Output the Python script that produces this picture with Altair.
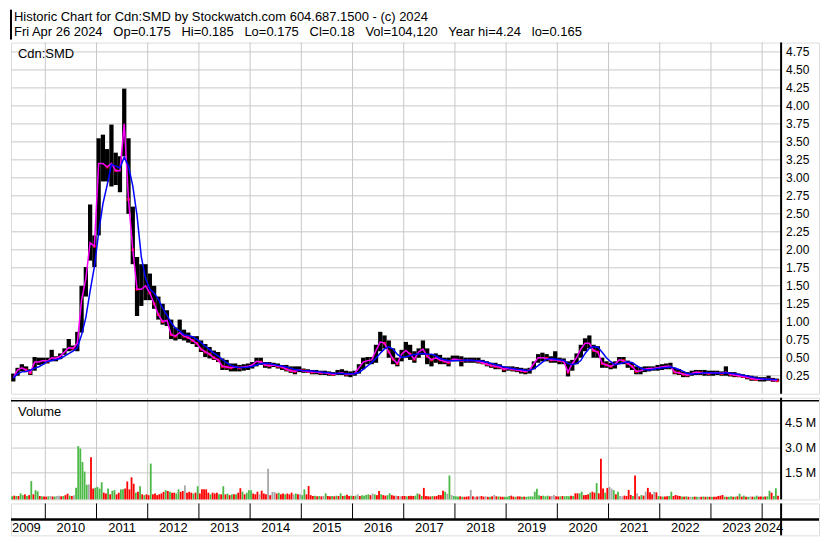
import altair as alt
import pandas as pd

# ---------------- data ----------------
START_YEAR, START_MONTH = 2009, 5   # first month shown: May 2009 (monthly bars)

price_hi = [
    0.28, 0.36, 0.41, 0.38, 0.34, 0.51, 0.50, 0.50,                       # 2009 May-Dec
    0.50, 0.61, 0.52, 0.56, 0.63, 0.76, 0.67, 0.86, 1.50, 1.76, 2.63, 2.20, # 2010
    3.55, 3.60, 3.40, 3.74, 3.35, 3.30, 4.24, 3.55, 2.60, 1.90, 1.80, 1.80, # 2011
    1.67, 1.50, 1.35, 1.25, 1.16, 1.03, 0.92, 1.03, 0.89, 0.85, 0.80, 0.80, # 2012
    0.74, 0.69, 0.65, 0.60, 0.58, 0.49, 0.47, 0.42, 0.42, 0.40, 0.41, 0.42, # 2013
    0.44, 0.50, 0.50, 0.44, 0.44, 0.43, 0.42, 0.40, 0.40, 0.38, 0.38, 0.38, # 2014
    0.35, 0.34, 0.33, 0.33, 0.32, 0.32, 0.31, 0.30, 0.33, 0.34, 0.32, 0.31, # 2015
    0.32, 0.41, 0.50, 0.51, 0.51, 0.68, 0.86, 0.81, 0.74, 0.63, 0.50, 0.61, # 2016
    0.72, 0.68, 0.59, 0.63, 0.74, 0.63, 0.54, 0.56, 0.54, 0.50, 0.50, 0.53, # 2017
    0.53, 0.52, 0.50, 0.50, 0.50, 0.50, 0.47, 0.45, 0.43, 0.43, 0.41, 0.38, # 2018
    0.38, 0.38, 0.37, 0.36, 0.35, 0.36, 0.45, 0.55, 0.57, 0.55, 0.52, 0.59, # 2019
    0.50, 0.49, 0.45, 0.47, 0.56, 0.68, 0.77, 0.81, 0.68, 0.66, 0.50, 0.45, # 2020
    0.43, 0.45, 0.51, 0.51, 0.46, 0.43, 0.38, 0.37, 0.38, 0.38, 0.38, 0.40, # 2021
    0.41, 0.42, 0.43, 0.36, 0.34, 0.31, 0.30, 0.32, 0.33, 0.33, 0.33, 0.32, # 2022
    0.32, 0.32, 0.31, 0.38, 0.30, 0.30, 0.28, 0.27, 0.26, 0.25, 0.24, 0.23, # 2023
    0.23, 0.25, 0.22, 0.21,                                                 # 2024 Jan-Apr
]
price_lo = [
    0.17, 0.25, 0.31, 0.30, 0.26, 0.32, 0.40, 0.41,
    0.42, 0.45, 0.45, 0.48, 0.54, 0.59, 0.60, 0.59, 0.85, 1.35, 1.85, 1.76,
    2.20, 2.95, 2.95, 2.88, 2.90, 2.80, 3.30, 2.50, 1.80, 1.08, 1.22, 1.30,
    1.30, 1.18, 1.03, 0.96, 0.94, 0.76, 0.74, 0.76, 0.74, 0.71, 0.69, 0.65,
    0.58, 0.51, 0.49, 0.47, 0.44, 0.33, 0.33, 0.31, 0.31, 0.31, 0.32, 0.33,
    0.35, 0.38, 0.40, 0.36, 0.35, 0.37, 0.35, 0.33, 0.31, 0.29, 0.27, 0.30,
    0.29, 0.29, 0.27, 0.27, 0.26, 0.26, 0.25, 0.25, 0.26, 0.26, 0.24, 0.23,
    0.25, 0.28, 0.34, 0.41, 0.41, 0.43, 0.59, 0.63, 0.50, 0.41, 0.38, 0.45,
    0.50, 0.47, 0.43, 0.50, 0.54, 0.41, 0.38, 0.43, 0.41, 0.41, 0.38, 0.45,
    0.45, 0.38, 0.43, 0.43, 0.43, 0.42, 0.41, 0.38, 0.36, 0.34, 0.34, 0.30,
    0.32, 0.31, 0.30, 0.28, 0.27, 0.28, 0.34, 0.43, 0.45, 0.45, 0.43, 0.43,
    0.41, 0.41, 0.24, 0.32, 0.41, 0.50, 0.59, 0.63, 0.50, 0.50, 0.36, 0.36,
    0.34, 0.35, 0.41, 0.41, 0.36, 0.33, 0.27, 0.27, 0.30, 0.31, 0.32, 0.32,
    0.33, 0.34, 0.34, 0.27, 0.26, 0.23, 0.23, 0.25, 0.26, 0.26, 0.25, 0.25,
    0.25, 0.26, 0.25, 0.25, 0.24, 0.23, 0.23, 0.22, 0.20, 0.18, 0.18, 0.17,
    0.17, 0.18, 0.165, 0.17,
]
price_cl = [
    0.22, 0.33, 0.36, 0.33, 0.29, 0.44, 0.44, 0.46,
    0.45, 0.50, 0.49, 0.52, 0.58, 0.64, 0.63, 0.70, 1.30, 1.60, 2.10, 2.05,
    3.20, 3.20, 3.15, 3.20, 3.10, 3.10, 3.75, 2.70, 2.00, 1.45, 1.45, 1.50,
    1.40, 1.25, 1.10, 1.00, 1.02, 0.82, 0.80, 0.85, 0.80, 0.78, 0.74, 0.70,
    0.62, 0.58, 0.55, 0.50, 0.47, 0.38, 0.37, 0.36, 0.37, 0.36, 0.37, 0.38,
    0.40, 0.45, 0.44, 0.40, 0.39, 0.40, 0.38, 0.37, 0.34, 0.32, 0.31, 0.33,
    0.32, 0.31, 0.30, 0.30, 0.29, 0.29, 0.28, 0.27, 0.28, 0.29, 0.27, 0.27,
    0.28, 0.36, 0.44, 0.46, 0.47, 0.60, 0.72, 0.70, 0.58, 0.48, 0.42, 0.55,
    0.60, 0.55, 0.48, 0.58, 0.62, 0.52, 0.47, 0.50, 0.47, 0.45, 0.43, 0.48,
    0.48, 0.46, 0.46, 0.46, 0.46, 0.45, 0.43, 0.41, 0.39, 0.38, 0.37, 0.34,
    0.35, 0.34, 0.33, 0.32, 0.31, 0.33, 0.42, 0.50, 0.50, 0.49, 0.47, 0.47,
    0.46, 0.45, 0.30, 0.42, 0.50, 0.62, 0.70, 0.70, 0.60, 0.58, 0.42, 0.40,
    0.38, 0.41, 0.47, 0.46, 0.42, 0.38, 0.31, 0.32, 0.34, 0.35, 0.35, 0.36,
    0.37, 0.38, 0.38, 0.30, 0.29, 0.27, 0.26, 0.28, 0.30, 0.29, 0.29, 0.28,
    0.29, 0.29, 0.28, 0.30, 0.27, 0.26, 0.25, 0.24, 0.23, 0.21, 0.20, 0.20,
    0.20, 0.20, 0.19, 0.18,
]

# volume, half-month steps from May 2009 (millions of shares)
vol_m = [
    0.08, 0.12, 0.10, 0.10, 0.26, 0.15, 0.20, 0.10, 0.15, 1.00, 0.20, 0.45, 0.38, 0.10, 0.08, 0.07,
    0.06, 0.08, 0.10, 0.07, 0.07, 0.10, 0.12, 0.08, 0.10, 0.15, 0.24, 0.12, 0.10, 0.15, 0.60, 3.12, 2.97, 2.16, 1.58, 0.78, 0.80, 2.44, 0.55, 0.60,
    0.65, 0.55, 0.93, 0.30, 0.25, 0.55, 0.20, 0.42, 0.45, 0.20, 0.30, 0.50, 0.50, 0.55, 0.98, 0.50, 1.23, 0.84, 0.30, 0.35, 0.69, 0.20, 0.15, 0.20,
    0.15, 2.06, 0.20, 0.25, 0.15, 0.20, 0.25, 0.35, 0.45, 0.40, 0.35, 0.30, 0.30, 0.25, 0.50, 0.35, 0.40, 0.74, 0.30, 0.35, 0.30, 0.25, 0.30, 0.69,
    0.25, 0.50, 0.50, 0.50, 0.30, 0.20, 0.30, 0.25, 0.30, 0.20, 0.20, 0.69, 0.20, 0.25, 0.15, 0.20, 0.20, 0.20, 0.30, 0.57, 0.36, 0.20, 0.30, 0.45,
    0.45, 0.25, 0.20, 0.36, 0.20, 0.42, 0.25, 0.20, 1.75, 0.15, 0.35, 0.35, 0.25, 0.30, 0.20, 0.25, 0.20, 0.25, 0.20, 0.30, 0.20, 0.25, 0.20, 0.20,
    0.15, 0.50, 0.20, 0.70, 0.15, 0.10, 0.12, 0.08, 0.10, 0.08, 0.10, 0.26, 0.10, 0.08, 0.10, 0.08, 0.12, 0.10, 0.26, 0.10, 0.12, 0.17, 0.10, 0.12,
    0.10, 0.12, 0.20, 0.10, 0.15, 0.12, 0.17, 0.20, 0.15, 0.25, 0.20, 0.15, 0.40, 0.20, 0.15, 0.12, 0.15, 0.26, 0.15, 0.12, 0.12, 0.10, 0.08, 0.10,
    0.10, 0.08, 0.10, 0.12, 0.10, 0.12, 0.26, 0.20, 0.10, 0.59, 0.10, 0.08, 0.07, 0.10, 0.08, 0.10, 0.16, 0.15, 0.42, 0.36, 0.24, 1.34, 0.16, 0.10,
    0.08, 0.07, 0.08, 0.06, 0.05, 0.06, 0.08, 0.47, 0.08, 0.06, 0.07, 0.08, 0.10, 0.06, 0.08, 0.05, 0.06, 0.08, 0.16, 0.08, 0.07, 0.06, 0.05, 0.06,
    0.06, 0.10, 0.12, 0.06, 0.05, 0.08, 0.07, 0.05, 0.06, 0.05, 0.07, 0.08, 0.07, 0.36, 0.53, 0.15, 0.10, 0.12, 0.08, 0.12, 0.08, 0.10, 0.16, 0.08,
    0.07, 0.08, 0.10, 0.08, 0.10, 0.08, 0.12, 0.10, 0.26, 0.26, 0.26, 0.36, 0.15, 0.16, 0.20, 0.30, 0.36, 0.30, 0.88, 0.26, 2.35, 0.55, 0.30, 0.59,
    0.65, 0.55, 0.45, 0.20, 0.36, 0.10, 0.08, 0.12, 0.10, 0.47, 0.16, 0.10, 1.34, 0.26, 0.08, 0.16, 0.12, 0.36, 0.59, 0.32, 0.20, 0.36, 0.32, 0.10,
    0.08, 0.06, 0.07, 0.08, 0.10, 0.36, 0.10, 0.16, 0.12, 0.10, 0.07, 0.06, 0.08, 0.05, 0.06, 0.05, 0.06, 0.05, 0.06, 0.05, 0.07, 0.05, 0.06, 0.05,
    0.05, 0.06, 0.05, 0.10, 0.12, 0.16, 0.06, 0.05, 0.06, 0.08, 0.05, 0.06, 0.08, 0.24, 0.06, 0.12, 0.06, 0.05, 0.07, 0.06, 0.05, 0.12, 0.06, 0.07,
    0.06, 0.07, 0.08, 0.42, 0.30, 0.10, 0.57, 0.12,
]
# g = up, r = down, n = unchanged
vol_dir = (
    "g r g r g g r g r g r g g r g r "
    "r g n r g n n r g r r g r n g g g g g g n r r g "
    "g g g r r g r g g r r g g r r r r r g r g r g r "
    "r g r r r r r r g r g r r g g r r n r r r g r g "
    "r r r r r g r r r g r g r g r g r g r r g r g g "
    "g r r r n r r r n r n n r g r r g r r r n g r n "
    "g g r r r r g r g r n g r r g r g r g r g r r g "
    "r g n r g g g g r n g r r g r r g g r r n r n r "
    "r g r r r g g r g r r r r g r r r r r g n g n g "
    "g g r g r r r n r n r n r r n r g r n r g r r g "
    "g g r r g r r g r g g g g g g g r g g g r n n r "
    "r g r g g g r g r r g g r r r g r r g r r r g r "
    "n n g r g n n r r r r g r n r g r n r r r n r g "
    "r g r r g g r r r r g r g r n g r g n r g r g r "
    "g r r r r r g r g g r g r g r g r g n r g g r r "
    "g r g g r g g r"
).split()

price_labels = ["0.25", "0.50", "0.75", "1.00", "1.25", "1.50", "1.75", "2.00", "2.25",
                "2.50", "2.75", "3.00", "3.25", "3.50", "3.75", "4.00", "4.25", "4.50", "4.75"]
vol_labels = ["1.5 M", "3.0 M", "4.5 M"]
vol_label_values = [1.5, 3.0, 4.5]
years = list(range(2009, 2025))

header_1 = "Historic Chart for Cdn:SMD by Stockwatch.com 604.687.1500 - (c) 2024"
header_2_parts = ["Fri Apr 26 2024", "Op=0.175", "Hi=0.185", "Lo=0.175", "Cl=0.18",
                  "Vol=104,120", "Year hi=4.24", "lo=0.165"]

# ---------------- layout ----------------
FONT = "Liberation Sans"
VW = 810          # full panel width (plot + label column)
PW = 772          # plot width, label column to the right of it
HH, PH, VH, BH = 30, 352, 102, 32
BAND = 16

X0, XP = 2009.33, 2024.37
X1 = X0 + (XP - X0) * VW / PW
MONTH_PX = PW / (XP - X0) / 12

xs = alt.Scale(domain=[X0, X1], nice=False, zero=False)
ys_p = alt.Scale(domain=[0, 4.88], nice=False, zero=False)
ys_v = alt.Scale(domain=[-0.11, 6.05], nice=False, zero=False)

one = pd.DataFrame({"k": [0]})
pdf = pd.DataFrame({
    "t": [START_YEAR + (START_MONTH - 1 + i + 0.5) / 12 for i in range(len(price_cl))],
    "hi": price_hi, "lo": price_lo, "cl": price_cl,
})
vt0 = [START_YEAR + (START_MONTH - 1) / 12 + j / 24 for j in range(len(vol_m))]
vdf = pd.DataFrame({"t0": vt0, "t1": [v + 0.85 / 24 for v in vt0], "v": vol_m, "d": vol_dir})
pgrid = pd.DataFrame({"lab": price_labels, "v": [float(s) for s in price_labels]})
vgrid = pd.DataFrame({"lab": vol_labels, "v": vol_label_values})
yr_lines = pd.DataFrame({"year": years[1:]})
yr_mid = pd.DataFrame({"lab": [str(y) for y in years[1:-1]], "pos": [y + 0.5 for y in years[1:-1]]})
yr_first = pd.DataFrame({"lab": [str(years[0])], "pos": [X0]})
yr_last = pd.DataFrame({"lab": [str(years[-1])]})

GRID = "#c8c8c8"
X = lambda f: alt.X(f, scale=xs, axis=None)


def sep(h):
    return alt.Chart(one).mark_rule(color="black", strokeWidth=2).encode(
        x=alt.value(PW), y=alt.value(0), y2=alt.value(h))


# ---------------- header ----------------
header = alt.layer(
    alt.Chart(one).mark_rule(color="black", strokeWidth=2).encode(
        x=alt.value(0), y=alt.value(0), y2=alt.value(HH)),
    alt.Chart(one).mark_text(align="left", baseline="alphabetic", font=FONT, fontSize=13,
                             color="black").encode(
        x=alt.value(3), y=alt.value(11), text=alt.value(header_1)),
    alt.Chart(one).mark_text(align="left", baseline="alphabetic", font=FONT, fontSize=13,
                             color="black").encode(
        x=alt.value(3), y=alt.value(26),
        text=alt.value("\u00a0\u00a0 ".join(header_2_parts))),
).properties(width=VW, height=HH, view=alt.ViewBackground(strokeOpacity=0))

# ---------------- price panel ----------------
sort_t = [alt.SortField("t", order="ascending")]
price = alt.layer(
    alt.Chart(pgrid).mark_rule(color=GRID, strokeWidth=1).encode(
        y=alt.Y("v:Q", scale=ys_p, axis=None), x=alt.value(0), x2=alt.value(PW)),
    alt.Chart(yr_lines).mark_rule(color=GRID, strokeWidth=1).encode(
        x=X("year:Q"), y=alt.value(0), y2=alt.value(PH)),
    alt.Chart(pdf).mark_rule(color="black", strokeWidth=MONTH_PX).encode(
        x=X("t:Q"), y=alt.Y("lo:Q", scale=ys_p, axis=None), y2="hi:Q"),
    alt.Chart(pdf).transform_window(prev="lag(cl)", sort=sort_t).transform_filter(
        "isValid(datum.prev) && datum.cl < datum.prev").mark_square(
        color="#ff0000", size=8, opacity=1).encode(
        x=X("t:Q"), y=alt.Y("cl:Q", scale=ys_p, axis=None)),
    alt.Chart(pdf).mark_line(color="#ff00ff", strokeWidth=1.5).encode(
        x=X("t:Q"), y=alt.Y("cl:Q", scale=ys_p, axis=None)),
    alt.Chart(pdf).transform_window(ma="mean(cl)", frame=[-3, 0], sort=sort_t).mark_line(
        color="#0000ff", strokeWidth=1.5).encode(
        x=X("t:Q"), y=alt.Y("ma:Q", scale=ys_p, axis=None)),
    sep(PH),
    alt.Chart(pgrid).mark_text(align="left", baseline="middle", font=FONT, fontSize=12,
                               color="black").encode(
        x=alt.value(PW + 5), y=alt.Y("v:Q", scale=ys_p, axis=None), text="lab:N"),
    alt.Chart(one).mark_text(align="left", baseline="alphabetic", font=FONT, fontSize=13,
                             color="black").encode(
        x=alt.value(7), y=alt.value(15), text=alt.value("Cdn:SMD")),
).properties(width=VW, height=PH)

# ---------------- volume panel ----------------
volume = alt.layer(
    alt.Chart(vgrid).mark_rule(color=GRID, strokeWidth=1).encode(
        y=alt.Y("v:Q", scale=ys_v, axis=None), x=alt.value(0), x2=alt.value(PW)),
    alt.Chart(yr_lines).mark_rule(color=GRID, strokeWidth=1).encode(
        x=X("year:Q"), y=alt.value(0), y2=alt.value(VH)),
    alt.Chart(vdf).mark_bar().encode(
        x=X("t0:Q"), x2="t1:Q",
        y=alt.Y("v:Q", scale=ys_v, axis=None), y2=alt.value(VH),
        color=alt.Color("d:N", legend=None,
                        scale=alt.Scale(domain=["g", "r", "n"],
                                        range=["#4cb848", "#ff0000", "#a8a8a8"]))),
    alt.Chart(one).mark_rule(color="black", strokeWidth=1.5).encode(
        x=alt.value(0), x2=alt.value(VW), y=alt.value(3)),
    sep(VH),
    alt.Chart(vgrid).mark_text(align="left", baseline="middle", font=FONT, fontSize=12.5,
                               color="black").encode(
        x=alt.value(PW + 4), y=alt.Y("v:Q", scale=ys_v, axis=None), text="lab:N"),
    alt.Chart(one).mark_text(align="left", baseline="alphabetic", font=FONT, fontSize=13,
                             color="black").encode(
        x=alt.value(7), y=alt.value(18), text=alt.value("Volume")),
).properties(width=VW, height=VH)

# ---------------- year band ----------------
band = alt.layer(
    alt.Chart(yr_lines).mark_rule(color="black", strokeWidth=1).encode(
        x=X("year:Q"), y=alt.value(0), y2=alt.value(BAND)),
    alt.Chart(one).mark_rule(color="black", strokeWidth=2.5).encode(
        x=alt.value(0), x2=alt.value(VW), y=alt.value(BAND)),
    sep(BH),
    alt.Chart(yr_mid).mark_text(align="center", baseline="alphabetic", font=FONT, fontSize=13,
                                color="black").encode(
        x=X("pos:Q"), y=alt.value(29), text="lab:N"),
    alt.Chart(yr_first).mark_text(align="left", baseline="alphabetic", font=FONT, fontSize=13,
                                  color="black", dx=1).encode(
        x=X("pos:Q"), y=alt.value(29), text="lab:N"),
    alt.Chart(yr_last).mark_text(align="right", baseline="alphabetic", font=FONT, fontSize=13,
                                 color="black").encode(
        x=alt.value(PW + 2), y=alt.value(29), text="lab:N"),
).properties(width=VW, height=BH)

chart = alt.vconcat(header, price, volume, band, spacing=0).resolve_scale(
    x="independent", y="independent", color="independent"
).properties(
    padding={"left": 1, "top": 0, "right": 1, "bottom": 1}
).configure_view(stroke="black", strokeWidth=2).configure(background="white")

chart.save("out.html", embed_options={"renderer": "svg", "actions": False})
